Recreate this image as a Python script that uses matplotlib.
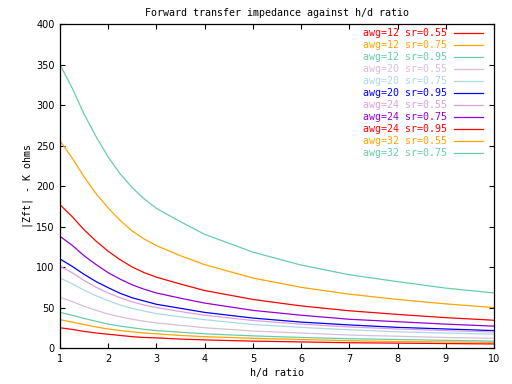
import matplotlib
matplotlib.use("Agg")
import matplotlib.pyplot as plt

hd_ratio = [1, 1.25, 1.5, 1.75, 2, 2.25, 2.5, 2.75, 3, 3.5, 4, 5, 6, 7, 8, 9, 10]

awg12_sr055 = [25, 23, 20.5, 18.5, 17, 15.5, 14, 13, 12.5, 11, 10, 8.5, 7.5, 6.5, 6, 5.5, 5]
awg12_sr075 = [35, 32, 29, 26, 23.5, 21.5, 20, 18.5, 17.5, 15.5, 14, 12, 10.5, 9, 8, 7.5, 7]
awg12_sr095 = [44, 40.5, 36.5, 33, 29.5, 27, 25, 23, 21.5, 19.5, 17.5, 15, 13, 11.5, 10.5, 9.5, 8.5]
awg20_sr055 = [62.5, 57.5, 51.5, 46.5, 42, 38.5, 35.5, 33, 31, 28, 25, 21, 18.5, 16, 14.5, 13, 12]
awg20_sr075 = [86.5, 79.5, 71.5, 64.5, 58.5, 53, 49, 45.5, 42.5, 38.5, 35, 29, 25.5, 22.5, 20, 18.5, 17]
awg20_sr095 = [110, 101, 91, 82, 74.5, 67.5, 62, 58, 54, 49, 44, 37, 32, 28.5, 25.5, 23.5, 21.5]
awg24_sr055 = [101, 93, 83.5, 75, 68, 62, 57, 53, 50, 45, 40.5, 34, 29.5, 26, 23.5, 21.5, 19.7]
awg24_sr075 = [138, 127, 114, 103, 93, 85, 78, 72.5, 68, 61.5, 55.5, 46.5, 40.5, 35.5, 32.5, 29.5, 27]
awg24_sr095 = [177, 162.5, 146, 132, 119.5, 109, 100, 93, 87.5, 79, 71, 60, 52, 46, 41.5, 37.5, 34.3]
awg32_sr055 = [256, 235, 211.5, 190.5, 173, 157.5, 144.5, 134.5, 126.5, 114, 103, 86.5, 75, 66.5, 60, 54.5, 50]
awg32_sr075 = [350, 321.5, 289, 261, 236, 215, 198, 184, 172.5, 156, 140.5, 118.5, 102.5, 90.5, 82, 74, 68]

labels = ["awg=12 sr=0.55", "awg=12 sr=0.75", "awg=12 sr=0.95",
          "awg=20 sr=0.55", "awg=20 sr=0.75", "awg=20 sr=0.95",
          "awg=24 sr=0.55", "awg=24 sr=0.75", "awg=24 sr=0.95",
          "awg=32 sr=0.55", "awg=32 sr=0.75"]
series = [awg12_sr055, awg12_sr075, awg12_sr095,
          awg20_sr055, awg20_sr075, awg20_sr095,
          awg24_sr055, awg24_sr075, awg24_sr095,
          awg32_sr055, awg32_sr075]
colors = ["#ff0000", "#ffa500", "#66cdaa",
          "#d8bfd8", "#add8e6", "#0000ff",
          "#dda0dd", "#9400d3", "#ff0000",
          "#ffa500", "#66cdaa"]

W, H = 512, 384
fig = plt.figure(figsize=(W / 100, H / 100), dpi=100)
ax = fig.add_axes([60 / W, 1 - 348 / H, (494 - 60) / W, (348 - 24.3) / H])

for ys, lab, c in zip(series, labels, colors):
    ax.plot(hd_ratio, ys, color=c, lw=0.9, label=lab)

ax.set_xlim(1, 10)
ax.set_ylim(0, 400)
ax.set_xticks(range(1, 11))
ax.set_yticks(range(0, 401, 50))
ax.tick_params(direction="in", length=3.6, width=0.8, top=True, right=True,
               labelsize=7, pad=4, colors="black")
for s in ax.spines.values():
    s.set_linewidth(0.9)
    s.set_color("black")

mono = "DejaVu Sans Mono"
fig.text(277 / W, 1 - 13.5 / H, "Forward transfer impedance against h/d ratio",
         family=mono, fontsize=7.2, ha="center", va="center")
fig.text(277 / W, 1 - 373 / H, "h/d ratio", family=mono, fontsize=7.2,
         ha="center", va="center")
fig.text(28 / W, 1 - 186 / H, "|Zft| - K ohms", family=mono, fontsize=7.2,
         ha="center", va="center", rotation=90)

leg = ax.legend(loc="upper right", bbox_to_anchor=(483 / W, 1 - 28 / H),
                bbox_transform=fig.transFigure, frameon=False, markerfirst=False,
                prop={"family": mono, "size": 7.2}, handlelength=2.9,
                handletextpad=0.7, labelspacing=0.2, borderpad=0,
                borderaxespad=0, labelcolor="linecolor")

fig.savefig("out.png", dpi=100)
